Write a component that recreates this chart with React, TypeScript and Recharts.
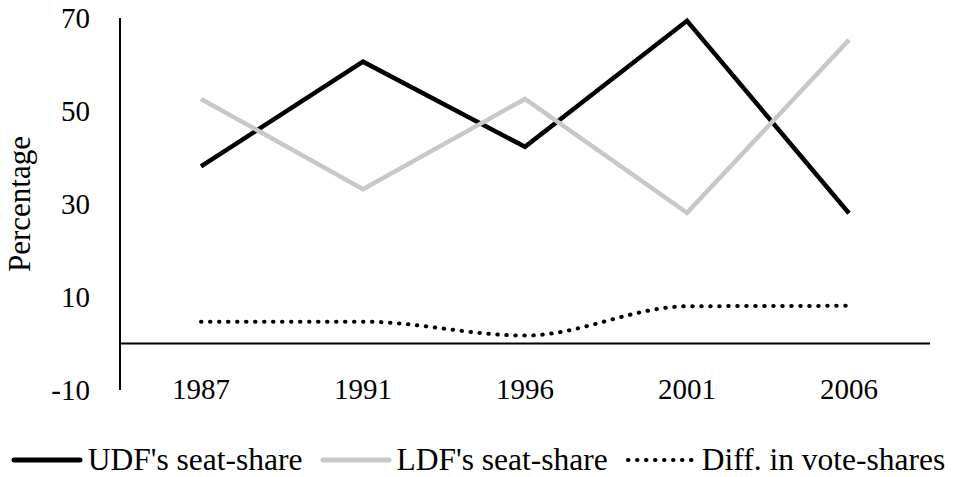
import React from 'react'
import { LineChart, Line, XAxis, YAxis, ReferenceLine, Legend } from 'recharts'

const years = ['1987', '1991', '1996', '2001', '2006']
const udfSeatShare = [38.1, 60.6, 42.3, 69.4, 28.0]
const ldfSeatShare = [52.6, 33.2, 52.6, 28.1, 65.3]
const voteShareDiff = [4.7, 4.7, 1.7, 8.0, 8.1]
const yTicks = [-10, 10, 30, 50, 70]

const FONT = "'Palatino Linotype', 'Book Antiqua', Palatino, 'Liberation Serif', serif"

const chartData = years.map((y, i) => ({
  year: y,
  udf: udfSeatShare[i],
  ldf: ldfSeatShare[i],
  diff: voteShareDiff[i],
}))

const legendItems = [
  { label: "UDF's seat-share", color: '#000000', dash: undefined as string | undefined },
  { label: "LDF's seat-share", color: '#c8c8c8', dash: undefined },
  { label: 'Diff. in vote-shares', color: '#000000', dash: '0.5 8.5' },
]

function YearTick({ x, y, payload }: any) {
  return (
    <text x={x} y={y + 9} textAnchor="middle" fontFamily={FONT} fontSize={29} fill="#000">
      {payload.value}
    </text>
  )
}

function ChartLegend() {
  return (
    <div style={{ display: 'flex', justifyContent: 'center', alignItems: 'center', fontFamily: FONT, fontSize: 31.5, color: '#000', paddingTop: 12, whiteSpace: 'nowrap' }}>
      {legendItems.map((item, i) => (
        <div key={item.label} style={{ display: 'flex', alignItems: 'center', marginRight: i < 2 ? 17 : 0 }}>
          <svg width={72} height={10} style={{ marginRight: 5 }}>
            <line x1={3} y1={5} x2={69} y2={5} stroke={item.color} strokeWidth={item.dash ? 4 : 5}
              strokeDasharray={item.dash} strokeLinecap="round" />
          </svg>
          <span>{item.label}</span>
        </div>
      ))}
    </div>
  )
}

export default function App() {
  return (
    <div style={{ position: 'absolute', left: 0, top: 0, width: 956, height: 477, background: '#fff' }}>
      <LineChart width={956} height={477} data={chartData} margin={{ top: 18, right: 26, bottom: 0, left: 0 }}>
        <XAxis
          dataKey="year"
          padding={{ left: 81, right: 81 }}
          axisLine={false}
          tickLine={false}
          tickSize={0}
          tickMargin={0}
          height={40}
          tick={<YearTick />}
          interval={0}
        />
        <YAxis
          domain={[-10, 70]}
          ticks={yTicks}
          width={120}
          axisLine={{ stroke: '#000', strokeWidth: 2 }}
          tickLine={false}
          tickSize={0}
          tickMargin={30}
          tick={{ fontFamily: FONT, fontSize: 29, fill: '#000' }}
          label={{ value: 'Percentage', angle: -90, position: 'insideLeft', offset: 19, style: { fontFamily: FONT, fontSize: 31, fill: '#000', textAnchor: 'middle' } }}
        />
        <ReferenceLine y={0} stroke="#000" strokeWidth={2} />
        <Line dataKey="udf" stroke="#000000" strokeWidth={4.5} dot={false} isAnimationActive={false} type="linear" />
        <Line dataKey="ldf" stroke="#c8c8c8" strokeWidth={4.5} dot={false} isAnimationActive={false} type="linear" />
        <Line dataKey="diff" stroke="#000000" strokeWidth={4} strokeDasharray="0.5 8.5" strokeLinecap="round" dot={false} isAnimationActive={false} type="monotone" />
        <Legend verticalAlign="bottom" height={47} wrapperStyle={{ left: 0, width: 956 }} content={() => <ChartLegend />} />
      </LineChart>
    </div>
  )
}
